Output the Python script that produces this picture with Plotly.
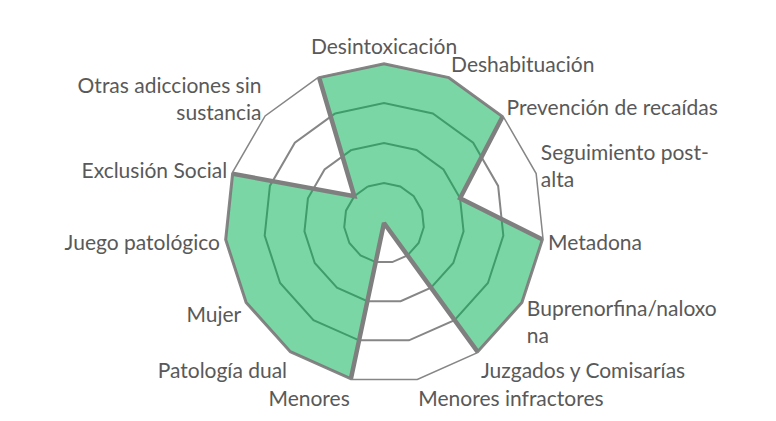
import plotly.graph_objects as go

categories = [
    "Desintoxicación",
    "Deshabituación",
    "Prevención de recaídas",
    "Seguimiento post-<br>alta",
    "Metadona",
    "Buprenorfina/naloxo<br>na",
    "Juzgados y Comisarías",
    "Menores infractores",
    "Menores",
    "Patología dual",
    "Mujer",
    "Juego patológico",
    "Exclusión Social",
    "Otras adicciones sin<br>sustancia",
    " ",
]
values = [4, 4, 4, 2, 4, 4, 4, 0, 4, 4, 4, 4, 4, 1, 4]

fig = go.Figure(
    data=[
        go.Scatterpolar(
            r=values + values[:1],
            theta=categories + categories[:1],
            mode="lines",
            line=dict(color="#7F7F7F", width=4.5),
            fill="toself",
            fillcolor="rgba(0,176,80,0.52)",
            hoverinfo="skip",
            showlegend=False,
        )
    ]
)

fig.update_layout(
    width=776,
    height=421,
    margin=dict(l=0, r=0, t=0, b=0),
    paper_bgcolor="white",
    plot_bgcolor="white",
    font=dict(family="Lato, Open Sans, sans-serif", size=21, color="#595959"),
    polar=dict(
        domain=dict(x=[0.2784, 0.6907], y=[0.1093, 0.8693]),
        bgcolor="white",
        gridshape="linear",
        radialaxis=dict(
            range=[0, 4],
            tickvals=[1, 2, 3, 4],
            showticklabels=False,
            ticks="",
            showline=False,
            gridcolor="#868686",
            gridwidth=1.5,
        ),
        angularaxis=dict(
            rotation=90,
            direction="clockwise",
            showgrid=False,
            ticks="",
            linecolor="#868686",
            linewidth=1.5,
            tickfont=dict(size=21, color="#595959"),
        ),
    ),
)

fig.write_html("out.html")
